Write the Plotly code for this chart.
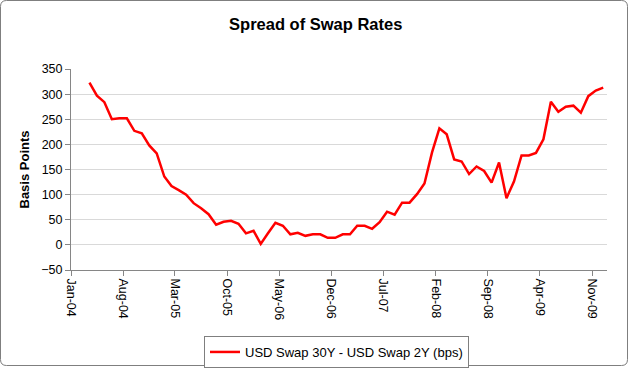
import pandas as pd
import plotly.graph_objects as go

# ---- data (monthly, Mar-2004 .. Dec-2009) ----
start_month = "2004-03-01"
spread_bps = [
    323, 297, 284, 250, 252, 252, 227, 222, 198, 182,      # Mar-04 .. Dec-04
    136, 117, 109, 100, 83, 73, 61, 40, 46, 48, 42, 23,    # 2005
    28, 2, 23, 44, 38, 21, 24, 18, 21, 21, 14, 14,         # 2006
    21, 21, 38, 38, 32, 45, 66, 60, 84, 84, 101, 122,      # 2007
    184, 232, 220, 170, 166, 141, 156, 147, 124, 164, 93, 126,  # 2008
    178, 178, 183, 210, 285, 265, 275, 277, 263, 296, 307, 313,  # 2009
]
series_name = "USD Swap 30Y - USD Swap 2Y (bps)"
title_text = "Spread of Swap Rates"
y_title = "Basis Points"

month_starts = pd.date_range(start_month, periods=len(spread_bps) + 1, freq="MS")
# points sit in the middle of each month slot (Excel "between tick marks")
x_dates = [a + (b - a) / 2 for a, b in zip(month_starts[:-1], month_starts[1:])]

W, H = 629, 368
L, R, T, B = 71, 22, 69, 98
pw, ph = W - L - R, H - T - B

fig = go.Figure()
fig.add_trace(go.Scatter(
    x=x_dates, y=spread_bps, mode="lines", name=series_name,
    line=dict(color="#FF0000", width=2.5),
))

font_family = "Liberation Sans, Arial, sans-serif"
axis_col = "#868686"

def px_to_paper_x(px):
    return (px - L) / pw

def px_to_paper_y(py):
    return (H - B - py) / ph

fig.update_layout(
    width=W, height=H,
    margin=dict(l=L, r=R, t=T, b=B, autoexpand=False),
    paper_bgcolor="white", plot_bgcolor="white",
    font=dict(family=font_family, size=12.5, color="black"),
    title=dict(text=f"<b>{title_text}</b>", x=0.502, xanchor="center",
               y=1 - 24 / H, yanchor="middle",
               font=dict(size=16.5, family=font_family, color="black")),
    showlegend=True,
    legend=dict(orientation="h", x=px_to_paper_x(336.5), xanchor="center",
                y=px_to_paper_y(336), yanchor="top",
                bordercolor="#7f7f7f", borderwidth=1,
                font=dict(size=13, family=font_family),
                itemwidth=30, bgcolor="white"),
    xaxis=dict(
        type="date", range=["2004-01-01", "2010-01-01"],
        tick0="2004-01-01", dtick="M7", tickformat="%b-%y",
        tickangle=90, showgrid=False, showline=True, linecolor=axis_col,
        ticks="outside", ticklen=5, tickcolor=axis_col,
        tickfont=dict(size=12.5), zeroline=False,
    ),
    yaxis=dict(
        range=[-50, 350], dtick=50, tick0=0,
        showgrid=True, gridcolor="#d9d9d9", gridwidth=1,
        showline=True, linecolor=axis_col,
        ticks="outside", ticklen=5, tickcolor=axis_col,
        tickfont=dict(size=12.5), zeroline=False,
        title=dict(text=f"<b>{y_title}</b>", font=dict(size=13), standoff=8),
    ),
)

# outer chart border with rounded corners (pixel geometry -> paper coords)
x0p, x1p, y0p, y1p, rad = 0.5, W - 1.5, 0.5, H - 2.5, 6
X = px_to_paper_x
Y = px_to_paper_y
path = (
    f"M {X(x0p + rad)},{Y(y0p)} L {X(x1p - rad)},{Y(y0p)} "
    f"Q {X(x1p)},{Y(y0p)} {X(x1p)},{Y(y0p + rad)} "
    f"L {X(x1p)},{Y(y1p - rad)} Q {X(x1p)},{Y(y1p)} {X(x1p - rad)},{Y(y1p)} "
    f"L {X(x0p + rad)},{Y(y1p)} Q {X(x0p)},{Y(y1p)} {X(x0p)},{Y(y1p - rad)} "
    f"L {X(x0p)},{Y(y0p + rad)} Q {X(x0p)},{Y(y0p)} {X(x0p + rad)},{Y(y0p)} Z"
)
fig.add_shape(type="path", xref="paper", yref="paper", path=path,
              line=dict(color="#7f7f7f", width=1), layer="below")

fig.write_html(
    "out.html",
    config={"displayModeBar": False},
    post_script="document.body.style.margin='0';document.body.style.overflow='hidden';",
)
